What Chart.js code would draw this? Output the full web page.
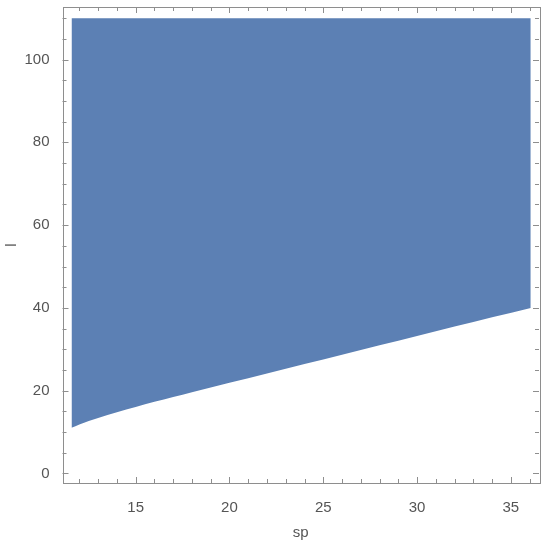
<!DOCTYPE html>
<html>
<head>
<meta charset="utf-8">
<script src="https://cdn.jsdelivr.net/npm/chart.js@4"></script>
<style>
  html, body { margin: 0; padding: 0; background: #fff; }
  #wrap { width: 550px; height: 542px; }
</style>
</head>
<body>
<div id="wrap"><canvas id="regionChart"></canvas></div>
<script>
// boundary of the region (sp -> lower l), region runs up to lTop
const sp = [11.58, 12, 12.5, 13, 14, 15, 16, 17, 18, 20, 22, 24, 26, 28, 30, 32, 34, 36.06];
const lLow = [11.05, 11.85, 12.67, 13.42, 14.8, 16.08, 17.3, 18.48, 19.64, 21.92, 24.18, 26.44, 28.7, 30.96, 33.22, 35.48, 37.74, 40];
const lTop = 110;

const xTicks = [15, 20, 25, 30, 35];
const xMinor = [12, 13, 14, 16, 17, 18, 19, 21, 22, 23, 24, 26, 27, 28, 29, 31, 32, 33, 34, 36];
const yTicks = [0, 20, 40, 60, 80, 100];
const yMinor = [5, 10, 15, 25, 30, 35, 45, 50, 55, 65, 70, 75, 85, 90, 95, 105, 110];

const fillColor = "rgb(92, 128, 180)";
const frameColor = "#8e8e8e";

// frame with inward ticks on all four sides
const framePlugin = {
  id: "frame",
  afterDraw(chart) {
    const ctx = chart.ctx;
    const a = chart.chartArea;
    const xs = chart.scales.x;
    const ys = chart.scales.y;
    ctx.save();
    ctx.strokeStyle = frameColor;
    ctx.lineWidth = 1;
    ctx.strokeRect(Math.round(a.left) + 0.5, Math.round(a.top) + 0.5,
      Math.round(a.right - a.left), Math.round(a.bottom - a.top));
    ctx.beginPath();
    const tickX = (v, len) => {
      const px = Math.round(xs.getPixelForValue(v)) + 0.5;
      ctx.moveTo(px, a.bottom); ctx.lineTo(px, a.bottom - len);
      ctx.moveTo(px, a.top); ctx.lineTo(px, a.top + len);
    };
    const tickY = (v, len) => {
      const py = Math.round(ys.getPixelForValue(v)) + 0.5;
      ctx.moveTo(a.left, py); ctx.lineTo(a.left + len, py);
      ctx.moveTo(a.right, py); ctx.lineTo(a.right - len, py);
    };
    xTicks.forEach(v => tickX(v, 6));
    xMinor.forEach(v => tickX(v, 4));
    yTicks.forEach(v => tickY(v, 6));
    yMinor.forEach(v => tickY(v, 4));
    ctx.stroke();
    ctx.restore();
  }
};

const ctx = document.getElementById("regionChart").getContext("2d");
new Chart(ctx, {
  type: "scatter",
  data: {
    datasets: [
      {
        label: "boundary",
        data: sp.map((x, i) => ({ x: x, y: lLow[i] })),
        showLine: true,
        borderWidth: 0,
        pointRadius: 0,
        cubicInterpolationMode: "monotone",
        fill: "+1",
        backgroundColor: fillColor,
      },
      {
        label: "top",
        data: sp.map(x => ({ x: x, y: lTop })),
        showLine: true,
        borderWidth: 0,
        pointRadius: 0,
        tension: 0,
        fill: false,
      },
    ],
  },
  options: {
    responsive: true,
    maintainAspectRatio: false,
    animation: false,
    layout: { padding: { left: 0, right: 11, top: 7, bottom: 0 } },
    plugins: {
      legend: { display: false },
      tooltip: { enabled: false },
    },
    scales: {
      x: {
        type: "linear",
        min: 11.1,
        max: 36.5,
        grid: { display: false },
        border: { display: false },
        afterBuildTicks: s => { s.ticks = xTicks.map(v => ({ value: v })); },
        afterFit: s => { s.height = 59; s.paddingLeft = 0; s.paddingRight = 0; },
        ticks: {
          padding: 8,
          maxRotation: 0,
          color: "#555",
          font: { family: "Liberation Sans", size: 15 },
        },
        title: {
          display: true,
          text: "sp",
          color: "#555",
          padding: { top: 6, bottom: 0 },
          font: { family: "Liberation Sans", size: 15 },
        },
      },
      y: {
        type: "linear",
        min: -2.3,
        max: 112.7,
        grid: { display: false },
        border: { display: false },
        afterBuildTicks: s => { s.ticks = yTicks.map(v => ({ value: v })); },
        afterFit: s => { s.width = 62.5; s.paddingTop = 0; s.paddingBottom = 0; },
        ticks: {
          padding: 5,
          color: "#555",
          font: { family: "Liberation Sans", size: 15 },
        },
        title: {
          display: true,
          text: "l",
          color: "#555",
          padding: { top: 3, bottom: 0 },
          font: { family: "Liberation Sans", size: 15 },
        },
      },
    },
  },
  plugins: [framePlugin],
});
</script>
</body>
</html>
